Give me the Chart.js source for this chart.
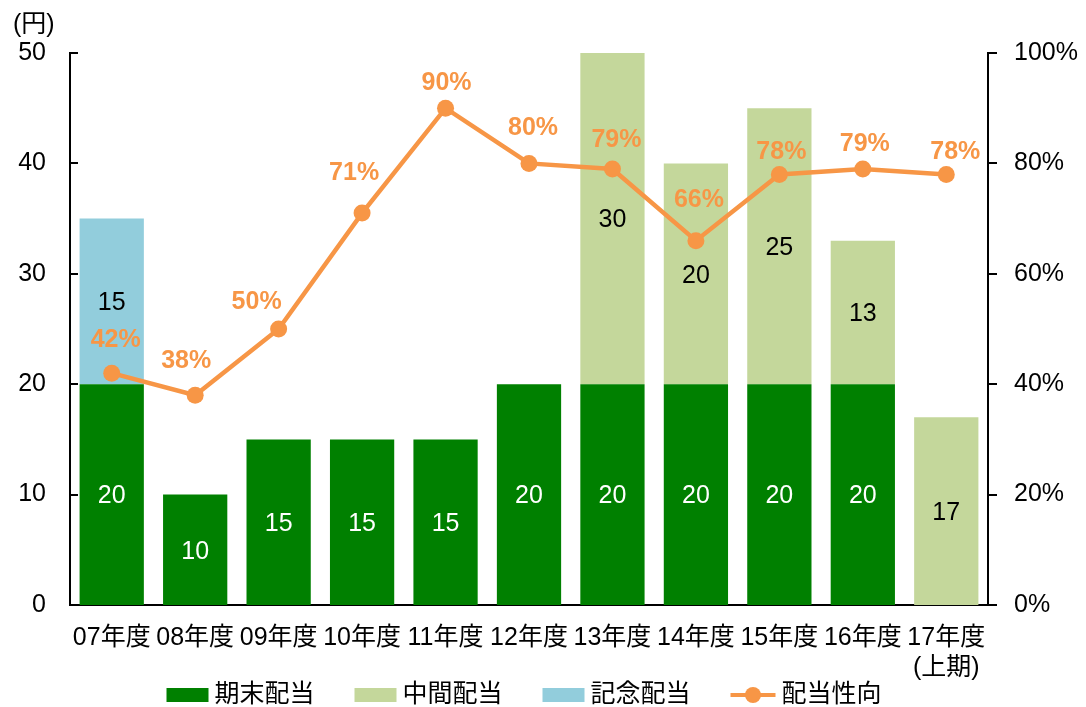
<!DOCTYPE html>
<html lang="ja">
<head>
<meta charset="utf-8">
<script src="https://cdn.jsdelivr.net/npm/chart.js@4.4.1/dist/chart.umd.min.js"></script>
<style>
  html, body { margin: 0; padding: 0; background: #ffffff; }
  #wrap { width: 1086px; height: 707px; position: relative; }
</style>
</head>
<body>
<div id="wrap"><canvas id="c" width="1086" height="707"></canvas></div>
<script>
// ---- data ----
const categories = ['07年度', '08年度', '09年度', '10年度', '11年度', '12年度', '13年度', '14年度', '15年度', '16年度', ['17年度', '(上期)']];
const yearEndDividend = [20, 10, 15, 15, 15, 20, 20, 20, 20, 20, null];
const interimDividend = [null, null, null, null, null, null, 30, 20, 25, 13, 17];
const commemorativeDividend = [15, null, null, null, null, null, null, null, null, null, null];
const payoutRatio = [42, 38, 50, 71, 90, 80, 79, 66, 78, 79, 78];
const leftTicks = [0, 10, 20, 30, 40, 50];
const rightTicks = [0, 20, 40, 60, 80, 100];
const seriesNames = ['期末配当', '中間配当', '記念配当', '配当性向'];
const unitLabel = '(円)';

const FONT = "'Liberation Sans', Arial, 'Noto Sans CJK JP', sans-serif";
const FS = 25;
const C_DARK = '#008000';
const C_LIGHT = '#c4d79b';
const C_BLUE = '#92cddc';
const C_ORANGE = '#f79646';
const C_AXIS = '#000000';

// label placement (style only): pixel offsets of each payout label from its point
const payoutLabelShift = [[4, -33], [-9, -34], [-22, -27], [-8, -40], [1, -25], [4, -35], [4, -29], [3, -41], [2, -22], [2, -25], [9, -22]];

const decor = {
  id: 'decor',
  afterDatasetsDraw(chart) {
    const ctx = chart.ctx;
    ctx.save();
    ctx.textAlign = 'center';
    ctx.textBaseline = 'middle';
    chart.data.datasets.forEach((ds, i) => {
      const meta = chart.getDatasetMeta(i);
      if (!chart.isDatasetVisible(i)) return;
      meta.data.forEach((el, j) => {
        const v = ds.data[j];
        if (v == null) return;
        if (ds.type === 'line') {
          const s = payoutLabelShift[j] || [0, -30];
          ctx.font = "bold " + FS + "px " + FONT;
          ctx.fillStyle = C_ORANGE;
          ctx.fillText(v + '%', el.x + s[0], el.y + s[1]);
        } else {
          ctx.font = FS + "px " + FONT;
          ctx.fillStyle = ds.labelColor;
          ctx.fillText(String(v), el.x, (el.y + el.base) / 2 + 2);
        }
      });
    });
    ctx.restore();
  },
  afterDraw(chart) {
    const ctx = chart.ctx;
    const area = chart.chartArea;
    const yL = chart.scales.y;
    const yR = chart.scales.y1;
    ctx.save();
    // tick marks
    ctx.strokeStyle = C_AXIS;
    ctx.lineWidth = 2;
    ctx.beginPath();
    leftTicks.forEach(v => {
      const py = Math.round(yL.getPixelForValue(v));
      ctx.moveTo(area.left, py);
      ctx.lineTo(area.left + 8, py);
    });
    rightTicks.forEach(v => {
      const py = Math.round(yR.getPixelForValue(v));
      ctx.moveTo(area.right, py);
      ctx.lineTo(area.right + 9, py);
    });
    ctx.stroke();
    // unit label
    ctx.fillStyle = '#000';
    ctx.font = FS + "px " + FONT;
    ctx.textAlign = 'left';
    ctx.textBaseline = 'middle';
    ctx.fillText(unitLabel, 13, 25);

    // legend
    const ds = chart.data.datasets;
    ctx.font = FS + "px " + FONT;
    const boxW = 42, boxH = 14, lineW = 45, gapBT = 6, gapItem = 40;
    const items = ds.map(d => ({ d, tw: ctx.measureText(d.label).width, mw: d.type === 'line' ? lineW : boxW }));
    let total = 0;
    items.forEach((it, k) => { total += it.mw + gapBT + it.tw + (k < items.length - 1 ? gapItem : 0); });
    let x = 524 - total / 2;
    const cy = 695;
    items.forEach(it => {
      if (it.d.type === 'line') {
        ctx.strokeStyle = it.d.borderColor;
        ctx.lineWidth = 4;
        ctx.beginPath();
        ctx.moveTo(x, cy);
        ctx.lineTo(x + it.mw, cy);
        ctx.stroke();
        ctx.fillStyle = it.d.borderColor;
        ctx.beginPath();
        ctx.arc(x + it.mw / 2, cy, 8, 0, Math.PI * 2);
        ctx.fill();
      } else {
        ctx.fillStyle = it.d.backgroundColor;
        ctx.fillRect(x, cy - boxH / 2, it.mw, boxH);
      }
      x += it.mw + gapBT;
      ctx.fillStyle = '#000';
      ctx.textAlign = 'left';
      ctx.fillText(it.d.label, x, cy);
      x += it.tw + gapItem;
    });
    ctx.restore();
  }
};

new Chart(document.getElementById('c'), {
  data: {
    labels: categories,
    datasets: [
      { type: 'bar', label: seriesNames[0], data: yearEndDividend, backgroundColor: C_DARK, labelColor: '#ffffff',
        yAxisID: 'y', stack: 's', order: 2, barPercentage: 0.77, categoryPercentage: 1.0 },
      { type: 'bar', label: seriesNames[1], data: interimDividend, backgroundColor: C_LIGHT, labelColor: '#000000',
        yAxisID: 'y', stack: 's', order: 2, barPercentage: 0.77, categoryPercentage: 1.0 },
      { type: 'bar', label: seriesNames[2], data: commemorativeDividend, backgroundColor: C_BLUE, labelColor: '#000000',
        yAxisID: 'y', stack: 's', order: 2, barPercentage: 0.77, categoryPercentage: 1.0 },
      { type: 'line', label: seriesNames[3], data: payoutRatio, borderColor: C_ORANGE, backgroundColor: C_ORANGE,
        borderWidth: 4.5, pointRadius: 8.5, pointBorderWidth: 0, pointBackgroundColor: C_ORANGE,
        pointHoverRadius: 8.5, yAxisID: 'y1', order: 0, tension: 0 }
    ]
  },
  options: {
    responsive: false,
    animation: false,
    events: [],
    layout: { padding: { top: 53, left: 0, right: 0, bottom: 0 } },
    plugins: { legend: { display: false }, tooltip: { enabled: false } },
    scales: {
      x: {
        stacked: true,
        grid: { display: false, drawTicks: false },
        border: { display: true, color: C_AXIS, width: 2 },
        ticks: { color: '#000', font: { family: FONT, size: FS, lineHeight: 1.2 }, padding: 18, maxRotation: 0, autoSkip: false },
        afterFit(scale) { scale.height = 102; }
      },
      y: {
        stacked: true,
        position: 'left',
        min: 0, max: 50,
        afterBuildTicks(scale) { scale.ticks = leftTicks.map(v => ({ value: v })); },
        grid: { display: false, drawTicks: false },
        border: { display: true, color: C_AXIS, width: 2 },
        ticks: { color: '#000', font: { family: FONT, size: FS }, padding: 24 },
        afterFit(scale) { scale.width = 70; }
      },
      y1: {
        position: 'right',
        min: 0, max: 100,
        afterBuildTicks(scale) { scale.ticks = rightTicks.map(v => ({ value: v })); },
        grid: { display: false, drawTicks: false },
        border: { display: true, color: C_AXIS, width: 2 },
        ticks: { color: '#000', font: { family: FONT, size: FS }, padding: 26, callback: v => v + '%' },
        afterFit(scale) { scale.width = 98; }
      }
    }
  },
  plugins: [decor]
});
</script>
</body>
</html>
